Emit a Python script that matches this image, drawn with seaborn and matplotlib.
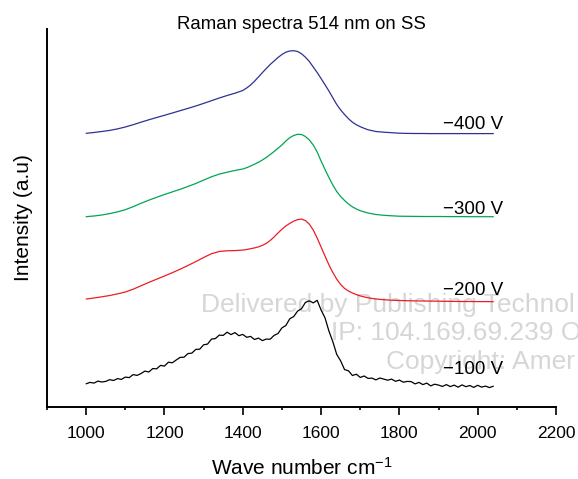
import matplotlib
matplotlib.use("Agg")
import matplotlib.pyplot as plt
from matplotlib.ticker import MultipleLocator
import numpy as np
import pandas as pd
import seaborn as sns

# ---------------- data ----------------
title = "Raman spectra 514 nm on SS"
x_label = "Wave number cm$^{-1}$"
y_label = "Intensity (a.u)"

# wave numbers for the smooth spectra (finer steps across the band region)
wn_smooth = list(range(1000, 1400, 20)) + list(range(1400, 1720, 10)) + list(range(1720, 2041, 20))

spec_400 = [273.7, 274.5, 275.5, 276.6, 278.1, 280.0, 282.3, 284.8, 287.2, 289.5,
            291.7, 294.0, 296.3, 298.6, 301.0, 303.6, 306.3, 309.0, 311.5, 313.8,
            316.5, 319.0, 322.0, 325.8, 330.0, 334.3, 338.5, 342.5, 346.0, 349.5,
            352.5, 354.8, 356.0, 356.3, 355.5, 353.3, 349.8, 345.5, 340.0, 334.5,
            328.5, 322.3, 316.0, 309.2, 302.5, 297.0, 292.5, 288.3, 284.8, 282.3,
            280.3, 278.7,
            277.2, 275.5, 274.8, 274.3, 273.8, 273.6, 273.5, 273.5, 273.4, 273.4,
            273.4, 273.4, 273.4, 273.4, 273.4, 273.4, 273.4]

spec_300 = [190.3, 191.0, 192.0, 193.4, 195.1, 197.3, 200.3, 203.7, 206.8, 209.7,
            212.5, 215.1, 217.7, 220.5, 223.5, 226.9, 230.2, 232.9, 234.8, 236.5,
            238.0, 239.3, 241.0, 242.8, 244.7, 247.0, 249.5, 252.4, 255.5, 258.7,
            262.0, 266.0, 269.3, 271.5, 272.7, 272.5, 270.5, 267.0, 262.0, 255.0,
            246.0, 237.5, 229.5, 222.0, 215.5, 210.5, 206.5, 203.0, 200.2, 198.0,
            196.3, 195.1,
            194.0, 192.5, 191.7, 191.2, 190.8, 190.7, 190.6, 190.5, 190.5, 190.5,
            190.4, 190.4, 190.4, 190.3, 190.3, 190.3, 190.3]

spec_200 = [108.0, 109.0, 110.2, 111.5, 113.1, 115.0, 117.8, 121.2, 124.6, 127.8,
            131.0, 134.3, 137.8, 141.5, 145.4, 149.5, 153.3, 155.5, 156.2, 156.4,
            156.9, 157.5, 158.3, 159.1, 160.1, 161.6, 163.6, 166.5, 170.0, 174.0,
            177.8, 181.0, 183.6, 185.8, 187.4, 187.9, 186.5, 182.8, 177.0, 169.0,
            160.0, 151.0, 142.2, 134.5, 127.8, 122.5, 118.6, 116.0, 114.0, 112.4,
            111.1, 110.1,
            109.2, 108.0, 107.3, 106.8, 106.5, 106.3, 106.1, 106.0, 105.9, 105.8,
            105.7, 105.6, 105.5, 105.5, 105.4, 105.4, 105.3]

# noisy -100 V spectrum (step 10 cm-1)
wn_noisy = list(range(1000, 2041, 10))
spec_100 = [23.2, 24.6, 23.9, 25.9, 25.0, 25.6, 27.3, 26.5, 28.4, 27.6,
            29.9, 29.4, 32.4, 31.6, 33.4, 35.9, 35.0, 38.4, 38.2, 41.6,
            40.9, 44.8, 44.2, 47.0, 49.6, 49.8, 53.4, 53.9, 57.6, 57.8,
            62.2, 62.9, 67.9, 68.4, 71.9, 71.6, 74.8, 72.4, 74.4, 71.3,
            72.6, 69.7, 70.6, 67.5, 68.9, 66.4, 67.9, 67.8, 71.6, 73.5,
            79.1, 81.5, 88.2, 90.4, 95.9, 98.3, 104.6, 106.2, 104.1, 106.7,
            97.0, 89.2, 76.0, 65.3, 52.6, 46.1, 37.4, 36.2, 31.5, 32.8,
            29.6, 31.0, 28.6, 28.9, 27.1, 29.0, 27.9, 26.8, 27.9, 25.7,
            26.9, 24.8, 25.6, 25.4, 23.1, 24.6, 22.4, 23.9, 21.1, 22.8,
            21.9, 20.6, 22.4, 20.4, 21.9, 19.8, 22.1, 20.3, 21.5, 19.6,
            21.7, 19.9, 20.9, 19.4, 20.8]

series_labels = ["\u2212400 V", "\u2212300 V", "\u2212200 V", "\u2212100 V"]
series_colors = ["#2e3192", "#00a651", "#ed1c24", "#000000"]
label_y = [278.3, 193.3, 112.3, 33.3]
label_x = 1912

watermark = ["Delivered by Publishing Technol", "IP: 104.169.69.239 O", "Copyright: Amer"]

# ---------------- plotting ----------------
sns.set_theme(style="ticks")
plt.rcParams["font.family"] = ["Liberation Sans", "DejaVu Sans"]
plt.rcParams["mathtext.fontset"] = "custom"
plt.rcParams["mathtext.rm"] = "Liberation Sans"
plt.rcParams["mathtext.it"] = "Liberation Sans:italic"

W, H = 578, 479
fig = plt.figure(figsize=(W / 100, H / 100), dpi=100)
ax = fig.add_axes([47 / W, 1 - 407 / H, (556 - 47) / W, (407 - 29) / H])

# watermark (behind the curves)
wm_pos = [(201, 312), (331, 340), (386, 369)]
for txt, (px, py) in zip(watermark, wm_pos):
    ax.text(px / W, 1 - py / H, txt, transform=fig.transFigure, fontsize=19,
            color="#d6d6d6", ha="left", va="baseline", zorder=0.5)

data = [(wn_smooth, spec_400), (wn_smooth, spec_300), (wn_smooth, spec_200), (wn_noisy, spec_100)]
for (xs, ys), col, lab, ly in zip(data, series_colors, series_labels, label_y):
    df = pd.DataFrame({"wn": xs, "I": ys})
    sns.lineplot(data=df, x="wn", y="I", color=col, lw=0.9, ax=ax, zorder=2)
    ax.text(label_x, ly, lab, fontsize=13.5, ha="left", va="baseline", color="black", zorder=3)

ax.set_xlim(900, 2200)
ax.set_ylim(0, 378)
ax.xaxis.set_major_locator(MultipleLocator(200))
ax.xaxis.set_minor_locator(MultipleLocator(100))
ax.set_yticks([])
ax.tick_params(axis="x", which="major", direction="out", length=5.5, width=1.2,
               labelsize=12.5, pad=8, color="black", labelcolor="black")
ax.tick_params(axis="x", which="minor", direction="out", length=2.5, width=1.2, color="black")
for s in ["top", "right"]:
    ax.spines[s].set_visible(False)
for s in ["left", "bottom"]:
    ax.spines[s].set_linewidth(1.4)
    ax.spines[s].set_color("black")

ax.set_xlabel(x_label, fontsize=15, color="black")
ax.xaxis.set_label_coords(0.5, -0.132)
ax.xaxis.label.set_va("top")
ax.set_ylabel(y_label, fontsize=15, color="black", va="center")
ax.yaxis.set_label_coords(-0.047, 0.5)

ax.text(0.5, 1.001, title, transform=ax.transAxes, ha="center", va="baseline",
        fontsize=13.4, color="black")

fig.savefig("out.png", dpi=100)
